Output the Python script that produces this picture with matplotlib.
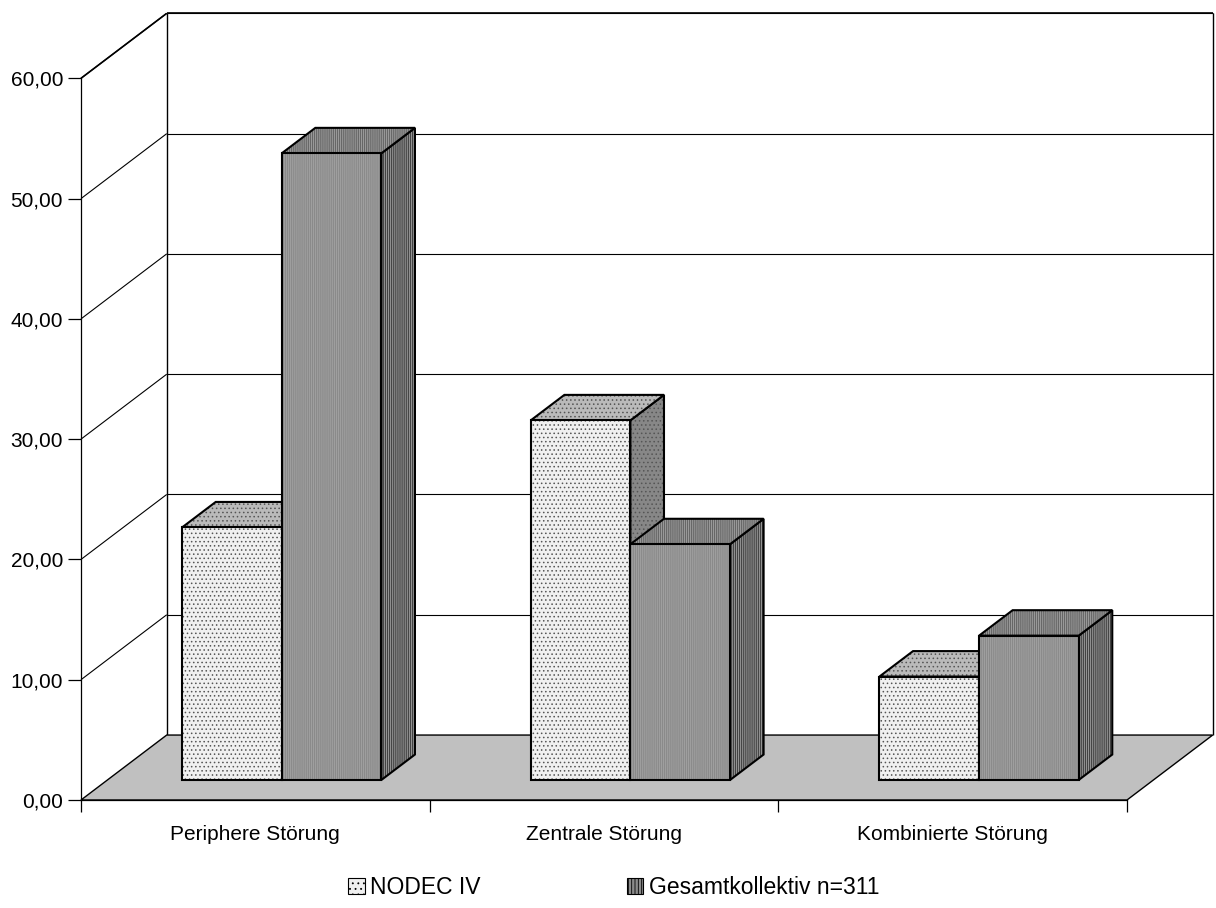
import matplotlib
matplotlib.use("Agg")
import matplotlib.pyplot as plt
from matplotlib.patches import Polygon, Patch
from matplotlib.ticker import FuncFormatter

# ---- data -------------------------------------------------------------
categories = ["Periphere Störung", "Zentrale Störung", "Kombinierte Störung"]
series_names = ["NODEC IV", "Gesamtkollektiv n=311"]
nodec_values = [21.0, 29.9, 8.6]
gesamt_values = [52.1, 19.6, 12.0]
y_ticks = [0, 10, 20, 30, 40, 50, 60]

# ---- styling ----------------------------------------------------------
plt.rcParams["font.family"] = ["Liberation Sans", "DejaVu Sans"]
plt.rcParams["hatch.linewidth"] = 0.6

W, H, DPI = 1216, 908, 100
fig = plt.figure(figsize=(W / DPI, H / DPI), dpi=DPI)
fig.patch.set_facecolor("white")

ax = fig.add_axes([81 / W, 108 / H, 1046 / W, 721.7 / H])
n_cat = len(categories)
y_max = y_ticks[-1]
ax.set_xlim(0, n_cat)
ax.set_ylim(0, y_max)
ax.set_facecolor("none")

# oblique depth offset of the back wall, in data units
DEPTH_X = 0.2458
DEPTH_Y = 5.40
# bars occupy this depth band
BAR_D0, BAR_D1 = 0.308, 0.70
GAP = 1.5  # gap width in bar widths
bar_w = 1.0 / (2 + GAP)


def proj(x, y, d):
    return (x + d * DEPTH_X, y + d * DEPTH_Y)


def line(p, q, lw=0.8, z=1):
    ax.plot([p[0], q[0]], [p[1], q[1]], color="black", lw=lw,
            solid_capstyle="butt", clip_on=False, zorder=z)


# walls: back-wall gridlines and side-wall diagonals
for v in y_ticks:
    if v > 0:
        line(proj(0, v, 1), proj(n_cat, v, 1), lw=0.8)
        line(proj(0, v, 0), proj(0, v, 1), lw=0.8)
line(proj(0, 0, 1), proj(0, y_max, 1), lw=1.0)
line(proj(n_cat, 0, 1), proj(n_cat, y_max, 1), lw=1.0)
line(proj(0, y_max, 0), proj(0, y_max, 1), lw=1.2)
line(proj(0, y_max, 1), proj(n_cat, y_max, 1), lw=1.2)

# floor
floor = [proj(0, 0, 0), proj(n_cat, 0, 0), proj(n_cat, 0, 1), proj(0, 0, 1)]
ax.add_patch(Polygon(floor, closed=True, facecolor="#c0c0c0",
                     edgecolor="black", lw=1.0, clip_on=False, zorder=2))

# face colours: (front, top, side), hatch, hatch colour
styles = [
    dict(front="#f0f0f0", top="#bababa", side="#878787",
         hatch="....", hcolor="#555555"),
    dict(front="#8a8a8a", top="#666666", side="#424242",
         hatch="||||||||", hcolor="#a4a4a4"),
]


def face(pts, fc, st, z):
    ax.add_patch(Polygon(pts, closed=True, facecolor=fc, edgecolor=st["hcolor"],
                         hatch=st["hatch"], lw=0, clip_on=False, zorder=z))
    ax.add_patch(Polygon(pts, closed=True, facecolor="none", edgecolor="black",
                         lw=1.5, joinstyle="miter", clip_on=False, zorder=z + 0.01))


def bar3d(x0, value, st, z):
    x1 = x0 + bar_w
    d0, d1 = BAR_D0, BAR_D1
    side = [proj(x1, 0, d0), proj(x1, 0, d1), proj(x1, value, d1), proj(x1, value, d0)]
    top = [proj(x0, value, d0), proj(x1, value, d0), proj(x1, value, d1), proj(x0, value, d1)]
    front = [proj(x0, 0, d0), proj(x1, 0, d0), proj(x1, value, d0), proj(x0, value, d0)]
    face(side, st["side"], st, z)
    face(top, st["top"], st, z + 0.1)
    face(front, st["front"], st, z + 0.2)


z = 3
for i in range(n_cat):
    start = i + GAP / 2 * bar_w
    for j, vals in enumerate([nodec_values, gesamt_values]):
        bar3d(start + j * bar_w, vals[i], styles[j], z)
        z += 1

# ---- axes ---------------------------------------------------------------
for s in ["top", "right"]:
    ax.spines[s].set_visible(False)
ax.spines["left"].set_linewidth(0.9)
ax.spines["bottom"].set_linewidth(0.9)
ax.spines["left"].set_zorder(50)
ax.spines["bottom"].set_zorder(50)

ax.set_yticks(y_ticks)
ax.yaxis.set_major_formatter(FuncFormatter(lambda v, p: f"{v:.2f}".replace(".", ",")))
ax.tick_params(axis="y", direction="out", length=9.4, width=0.9, pad=3.5,
               labelsize=15, colors="black")

ax.set_xticks(range(n_cat + 1))
ax.set_xticklabels([])
ax.set_xticks([i + 0.5 for i in range(n_cat)], minor=True)
ax.set_xticklabels(categories, minor=True)
ax.tick_params(axis="x", which="major", direction="out", length=8.6, width=0.9)
ax.tick_params(axis="x", which="minor", length=0, pad=18, labelsize=15)

# ---- legend -------------------------------------------------------------
handles = [
    Patch(facecolor=styles[0]["front"], edgecolor="black", hatch="...", lw=0.8),
    Patch(facecolor=styles[1]["front"], edgecolor="black", hatch="|||||", lw=0.8),
]
fig.legend(handles, series_names, loc="center", bbox_to_anchor=(0.505, 0.023),
           ncol=2, frameon=False, fontsize=16.5, handlelength=0.7,
           handleheight=0.7, handletextpad=0.25, columnspacing=6.4)

fig.savefig("out.png", dpi=DPI)
